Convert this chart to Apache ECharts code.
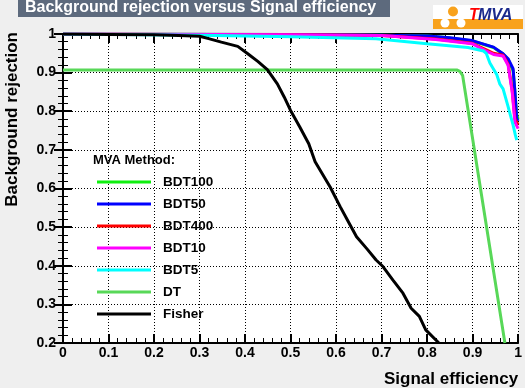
<!DOCTYPE html>
<html>
<head>
<meta charset="utf-8">
<script src="https://cdn.jsdelivr.net/npm/echarts@6/dist/echarts.min.js"></script>
<style>
  html, body { margin: 0; padding: 0; background: #efefef; }
  #chart { width: 525px; height: 388px; }
</style>
</head>
<body>
<div id="chart"></div>
<script>
// ROC curves: [signal efficiency, background rejection]
const methods = ["BDT100", "BDT50", "BDT400", "BDT10", "BDT5", "DT", "Fisher"];
const colors = ["#10f010", "#0000ff", "#ff0000", "#ff00ff", "#00ffff", "#58d858", "#000000"];

const bdt100 = [[0, 1], [0.5, 0.999], [0.7, 0.997], [0.8, 0.995], [0.85, 0.99], [0.9, 0.982],
  [0.946, 0.965], [0.967, 0.948], [0.978, 0.934], [0.989, 0.905], [0.993, 0.85], [0.997, 0.79], [1, 0.78]];
const bdt50 = [[0, 1], [0.5, 0.999], [0.7, 0.997], [0.8, 0.995], [0.85, 0.99], [0.899, 0.983],
  [0.946, 0.966], [0.967, 0.949], [0.978, 0.936], [0.989, 0.91], [0.993, 0.85], [0.997, 0.781], [1, 0.775]];
const bdt400 = [[0, 1], [0.5, 0.998], [0.7, 0.996], [0.819, 0.987], [0.899, 0.976], [0.928, 0.96],
  [0.946, 0.95], [0.967, 0.945], [0.978, 0.922], [0.987, 0.855], [0.993, 0.78], [1, 0.765]];
const bdt10 = [[0, 1], [0.5, 0.998], [0.7, 0.996], [0.819, 0.986], [0.899, 0.975], [0.928, 0.957],
  [0.946, 0.947], [0.967, 0.943], [0.978, 0.919], [0.987, 0.85], [0.993, 0.772], [1, 0.755]];
const bdt5 = [[0, 1], [0.3, 0.997], [0.5, 0.993], [0.688, 0.988], [0.8, 0.975], [0.89, 0.965],
  [0.924, 0.956], [0.93, 0.95], [0.938, 0.925], [0.953, 0.895], [0.96, 0.87], [0.967, 0.858],
  [0.978, 0.812], [0.989, 0.764], [0.994, 0.738], [0.997, 0.725]];
const dt = [[0, 0.907], [0.865, 0.907], [0.872, 0.903], [0.878, 0.893], [0.971, 0.2]];
const fisher = [[0, 1], [0.1, 0.999], [0.2, 0.998], [0.254, 0.996], [0.3, 0.994], [0.32, 0.988],
  [0.348, 0.979], [0.384, 0.968], [0.406, 0.949], [0.428, 0.929], [0.449, 0.908], [0.471, 0.871],
  [0.486, 0.837], [0.5, 0.802], [0.52, 0.76], [0.54, 0.716], [0.554, 0.669], [0.587, 0.604],
  [0.609, 0.553], [0.627, 0.514], [0.645, 0.475], [0.667, 0.445], [0.688, 0.415], [0.703, 0.398],
  [0.725, 0.363], [0.747, 0.329], [0.765, 0.29], [0.783, 0.269], [0.797, 0.234], [0.826, 0.2]];
const curves = [bdt100, bdt50, bdt400, bdt10, bdt5, dt, fisher];

const FONT = "'Liberation Sans', Arial, sans-serif";
const fmt = (v) => String(+v.toFixed(1));

const tickAxis = (extra) => ({
  min: 0, max: 1, interval: 0.1,
  axisLine: { show: true, lineStyle: { color: "#000", width: 2 } },
  axisTick: { show: true, inside: true, length: 9, lineStyle: { color: "#000", width: 2 } },
  minorTick: { show: true, splitNumber: 5, length: 5, lineStyle: { color: "#000", width: 1 } },
  ...extra,
});

const chart = echarts.init(document.getElementById("chart"), null, { renderer: "canvas" });
chart.setOption({
  backgroundColor: "#efefef",
  animation: false,
  title: [
    {
      text: "Background rejection versus Signal efficiency",
      left: 25, top: 0,
      padding: 0,
      z: 10,
      textStyle: { color: "#fff", fontFamily: FONT, fontWeight: "bold", fontSize: 16 },
    },
    {
      text: "MVA Method:",
      left: 93, top: 154,
      padding: 0,
      textStyle: { color: "#000", fontFamily: FONT, fontWeight: "bold", fontSize: 13 },
    },
  ],
  grid: {
    left: 63, right: 3, top: 34, bottom: 45,
    show: true, backgroundColor: "#fff", borderWidth: 0,
  },
  legend: {
    orient: "vertical",
    left: 97, top: 175,
    padding: 0,
    icon: "rect",
    itemWidth: 54, itemHeight: 3, itemGap: 8,
    selectedMode: false,
    data: methods,
    textStyle: { color: "#000", fontFamily: FONT, fontWeight: "bold", fontSize: 13.5, padding: [0, 0, 0, 7] },
  },
  xAxis: [
    tickAxis({
      type: "value", position: "bottom",
      name: "Signal efficiency", nameLocation: "end", nameGap: 0,
      nameTextStyle: { color: "#000", fontFamily: FONT, fontWeight: "bold", fontSize: 17,
        align: "right", verticalAlign: "top", padding: [28, 0, 0, 0] },
      axisLabel: { color: "#000", fontFamily: FONT, fontWeight: "bold", fontSize: 14, margin: 3, formatter: fmt },
      splitLine: { show: true, lineStyle: { color: "#000", width: 1, type: [1, 2] } },
    }),
    tickAxis({ type: "value", position: "top", axisLabel: { show: false }, splitLine: { show: false } }),
  ],
  yAxis: [
    tickAxis({
      type: "value", position: "left", min: 0.2,
      name: "Background rejection", nameLocation: "end", nameGap: 2, nameRotate: 90,
      nameTextStyle: { color: "#000", fontFamily: FONT, fontWeight: "bold", fontSize: 17,
        align: "right", verticalAlign: "bottom", padding: [0, 0, 42, 0] },
      axisLabel: { color: "#000", fontFamily: FONT, fontWeight: "bold", fontSize: 14, margin: 7, formatter: fmt },
      splitLine: { show: true, lineStyle: { color: "#000", width: 1, type: [1, 2] } },
    }),
    tickAxis({ type: "value", position: "right", min: 0.2, axisLabel: { show: false }, splitLine: { show: false } }),
  ],
  series: methods.map((name, i) => ({
    name,
    type: "line",
    data: curves[i],
    color: colors[i],
    showSymbol: false,
    symbol: "none",
    lineStyle: { color: colors[i], width: 3 },
    z: 2 + i,
  })),
  graphic: [
    // title box
    { type: "rect", z: -1, shape: { x: 18, y: 0, width: 372, height: 17 }, style: { fill: "#5d6a7d" } },
    // TMVA logo
    { type: "rect", shape: { x: 433, y: 5, width: 90, height: 24 }, style: { fill: "#fff" } },
    { type: "rect", shape: { x: 433, y: 19, width: 90, height: 10 }, style: { fill: "#f8a21c" } },
    { type: "circle", shape: { cx: 453, cy: 11.5, r: 5 }, style: { fill: "#f8a21c" } },
    { type: "circle", shape: { cx: 445, cy: 23, r: 4.5 }, style: { fill: "#fff" } },
    { type: "circle", shape: { cx: 461, cy: 23, r: 4.5 }, style: { fill: "#fff" } },
    { type: "text", left: 469, top: 8, style: { text: "T", fill: "#ff0000", font: "italic bold 16px " + FONT } },
    { type: "text", left: 478, top: 8, style: { text: "MVA", fill: "#1c2a8c", font: "italic bold 16px " + FONT } },
  ],
});
</script>
</body>
</html>
